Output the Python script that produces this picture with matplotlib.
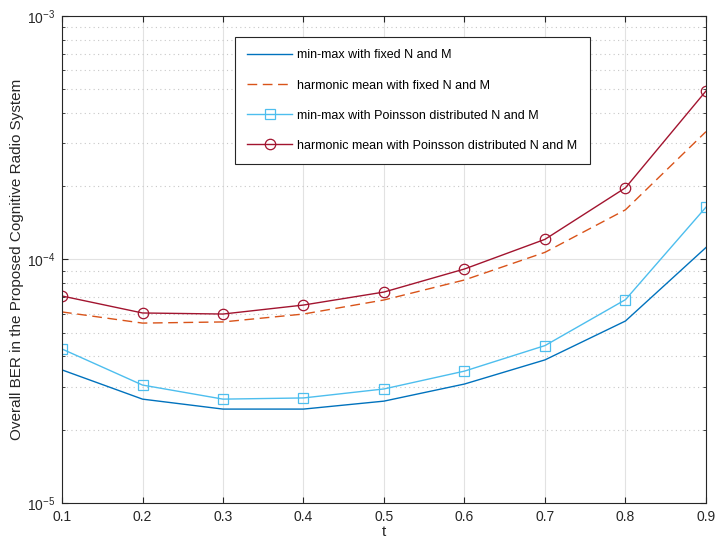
import numpy as np
import matplotlib.pyplot as plt
from matplotlib.ticker import LogLocator, NullFormatter, FixedLocator

plt.rcParams['font.family'] = ['Liberation Sans', 'DejaVu Sans']
plt.rcParams['mathtext.fontset'] = 'custom'
plt.rcParams['mathtext.rm'] = 'Liberation Sans'

# data
t = [0.1, 0.2, 0.3, 0.4, 0.5, 0.6, 0.7, 0.8, 0.9]
minmax_fixed = [3.52e-5, 2.67e-5, 2.43e-5, 2.43e-5, 2.62e-5, 3.08e-5, 3.87e-5, 5.59e-5, 1.12e-4]
harm_fixed = [6.09e-5, 5.48e-5, 5.54e-5, 5.97e-5, 6.82e-5, 8.24e-5, 1.07e-4, 1.60e-4, 3.35e-4]
minmax_pois = [4.29e-5, 3.05e-5, 2.67e-5, 2.70e-5, 2.94e-5, 3.48e-5, 4.43e-5, 6.84e-5, 1.64e-4]
harm_pois = [7.08e-5, 6.03e-5, 5.97e-5, 6.50e-5, 7.35e-5, 9.14e-5, 1.21e-4, 1.97e-4, 4.92e-4]

labels = ['min-max with fixed N and M',
          'harmonic mean with fixed N and M',
          'min-max with Poinsson distributed N and M',
          'harmonic mean with Poinsson distributed N and M']

fig = plt.figure(figsize=(7.16, 5.44), dpi=100)
ax = fig.add_axes([0.0866, 0.0754, 0.8994, 0.8952])

ax.plot(t, minmax_fixed, color='#0072BD', lw=1, label=labels[0])
ax.plot(t, harm_fixed, color='#D95319', lw=1, ls=(0, (7, 4)), label=labels[1])
ax.plot(t, minmax_pois, color='#4DBEEE', lw=1, marker='s', ms=6.5, mfc='none', mew=0.9, label=labels[2])
ax.plot(t, harm_pois, color='#A2142F', lw=1, marker='o', ms=7.5, mfc='none', mew=0.9, label=labels[3])

ax.set_yscale('log')
ax.set_xlim(0.1, 0.9)
ax.set_ylim(1e-5, 1e-3)
ax.xaxis.set_major_locator(FixedLocator(t))
ax.set_xticklabels([f'{v:.1f}' for v in t])
ax.set_yticks([1e-5, 1e-4, 1e-3])
ax.set_yticklabels(['$10^{-5}$', '$10^{-4}$', '$10^{-3}$'])
ax.yaxis.set_minor_locator(LogLocator(base=10, subs=np.arange(2, 10)))
ax.yaxis.set_minor_formatter(NullFormatter())

ax.grid(True, which='major', color='#e2e2e2', lw=0.8)
ax.grid(True, which='minor', axis='y', color='#c8c8c8', lw=0.8, ls=(0, (1, 3)))
ax.set_axisbelow(True)
ax.tick_params(which='both', direction='in', top=True, right=True, colors='#262626', labelsize=10)
ax.tick_params(which='major', length=4)
ax.tick_params(which='minor', length=2.5)
ax.tick_params(axis='x', pad=5)
ax.tick_params(axis='y', pad=5)
for s in ax.spines.values():
    s.set_color('#262626')
    s.set_linewidth(0.8)

ax.set_xlabel('t', fontsize=11, color='#262626', labelpad=1)
ax.set_ylabel('Overall BER in the Proposed Cognitive Radio System', fontsize=11, color='#262626', labelpad=2)

leg = ax.legend(loc='upper left', bbox_to_anchor=(0.328, 0.932), bbox_transform=fig.transFigure,
                fontsize=9, frameon=True, fancybox=False, edgecolor='#262626', framealpha=1,
                handlelength=3.6, labelspacing=1.45, borderpad=1.0, handletextpad=0.4, borderaxespad=0)
leg.get_frame().set_linewidth(0.8)

fig.savefig('out.png', dpi=100)
